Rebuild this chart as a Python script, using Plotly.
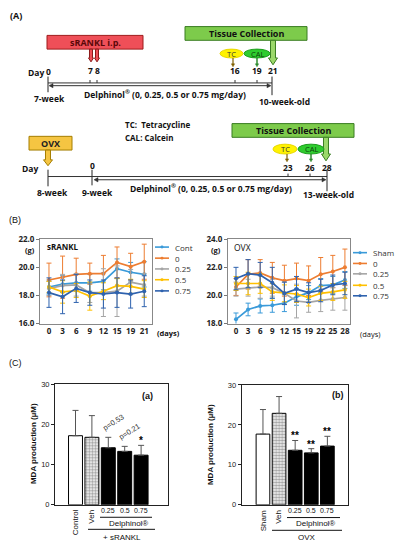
import plotly.graph_objects as go

# ---------------- data ----------------
srankl_days = ["0", "3", "6", "9", "12", "15", "19", "21"]
srankl_names = ["Cont", "0", "0.25", "0.5", "0.75"]
srankl_cont = [18.6, 18.8, 18.9, 18.9, 19.0, 19.9, 19.65, 19.5]
srankl_0 = [19.1, 19.3, 19.5, 19.55, 19.55, 20.35, 20.05, 20.4]
srankl_025 = [18.5, 18.7, 18.75, 18.2, 18.2, 18.3, 18.95, 18.75]
srankl_05 = [18.6, 18.25, 18.35, 17.95, 18.3, 18.7, 18.65, 18.45]
srankl_075 = [18.2, 17.9, 18.5, 18.2, 18.1, 18.2, 18.1, 18.3]
srankl_cont_sd = [0.5, 0.6, 0.6, 0.6, 0.6, 0.7, 0.7, 0.9]
srankl_0_sd = [1.2, 1.5, 1.15, 0.75, 1.3, 1.1, 0.95, 1.25]
srankl_025_sd = [0.5, 0.8, 0.8, 0.7, 1.7, 1.8, 0.9, 0.8]
srankl_05_sd = [0.4, 0.8, 0.5, 1.0, 0.6, 0.5, 0.5, 0.6]
srankl_075_sd = [1.05, 1.2, 1.0, 0.9, 1.0, 1.05, 1.0, 1.1]

ovx_days = ["0", "3", "6", "9", "12", "15", "19", "22", "25", "28"]
ovx_names = ["Sham", "0", "0.25", "0.5", "0.75"]
ovx_sham = [18.3, 19.0, 19.25, 19.3, 19.45, 19.9, 20.2, 20.7, 20.75, 21.1]
ovx_0 = [20.6, 21.5, 21.6, 21.25, 21.05, 21.2, 21.05, 21.5, 21.7, 22.0]
ovx_025 = [20.45, 20.55, 20.6, 20.55, 20.15, 19.6, 19.5, 19.65, 19.75, 19.85]
ovx_05 = [20.85, 20.85, 20.85, 20.25, 20.15, 20.1, 19.85, 20.15, 20.25, 20.4]
ovx_075 = [21.2, 21.55, 21.45, 20.9, 20.15, 20.45, 20.2, 20.35, 20.75, 20.85]
ovx_sham_sd = [0.45, 0.45, 0.5, 0.5, 0.6, 0.6, 0.5, 0.5, 0.6, 0.6]
ovx_0_sd = [0.6, 1.05, 0.95, 1.1, 1.1, 1.1, 1.05, 1.2, 1.15, 1.3]
ovx_025_sd = [0.5, 0.6, 0.8, 0.6, 0.8, 1.2, 0.7, 0.8, 0.8, 0.9]
ovx_05_sd = [0.5, 0.8, 0.7, 0.6, 0.6, 0.6, 0.6, 0.5, 0.6, 0.6]
ovx_075_sd = [0.8, 1.0, 0.9, 1.1, 0.8, 0.9, 0.7, 0.8, 0.7, 0.8]

mda_a_groups = ["Control", "Veh", "0.25", "0.5", "0.75"]
mda_a = [17.2, 16.8, 14.2, 13.3, 12.35]
mda_a_sd = [6.3, 5.4, 2.6, 1.25, 2.45]
mda_a_marks = ["", "", "p=0.53", "p=0.21", "*"]

mda_b_groups = ["Sham", "Veh", "0.25", "0.5", "0.75"]
mda_b = [17.7, 22.9, 13.65, 13.0, 14.7]
mda_b_sd = [6.15, 4.2, 2.45, 1.05, 2.45]
mda_b_marks = ["", "", "**", "**", "**"]

line_colors = ["#3A9AD9", "#ED7D31", "#A5A5A5", "#FFC000", "#2E62AE"]

W, H = 398, 550
def X(p): return p / W
def Y(p): return 1 - p / H

fig = go.Figure()
shapes = []
ann = []

def text(x, y, t, size=8, color="#111", bold=True, xa="center", ya="middle", angle=0, family="Open Sans"):
    ann.append(dict(x=X(x), y=Y(y), xref="paper", yref="paper", text=("<b>%s</b>" % t) if bold else t,
                    showarrow=False, xanchor=xa, yanchor=ya, textangle=angle,
                    font=dict(size=size, color=color, family=family)))

def line(x0, y0, x1, y1, color="#222", w=1):
    shapes.append(dict(type="line", xref="paper", yref="paper", x0=X(x0), y0=Y(y0), x1=X(x1), y1=Y(y1),
                       line=dict(color=color, width=w)))

def rect(x0, y0, x1, y1, fill, border, w=1):
    shapes.append(dict(type="rect", xref="paper", yref="paper", x0=X(x0), y0=Y(y0), x1=X(x1), y1=Y(y1),
                       fillcolor=fill, line=dict(color=border, width=w)))

def ellipse(x0, y0, x1, y1, fill, border):
    shapes.append(dict(type="circle", xref="paper", yref="paper", x0=X(x0), y0=Y(y0), x1=X(x1), y1=Y(y1),
                       fillcolor=fill, line=dict(color=border, width=1)))

def block_arrow(cx, y0, y1, sw, hw, hh, fill, border):
    pts = [(cx - sw / 2, y0), (cx + sw / 2, y0), (cx + sw / 2, y1 - hh), (cx + hw / 2, y1 - hh),
           (cx, y1), (cx - hw / 2, y1 - hh), (cx - sw / 2, y1 - hh)]
    path = "M " + " L ".join("%.5f,%.5f" % (X(a), Y(b)) for a, b in pts) + " Z"
    shapes.append(dict(type="path", xref="paper", yref="paper", path=path, fillcolor=fill,
                       line=dict(color=border, width=1)))

def tri(tipx, tipy, direction, size, color):
    if direction == "left":
        pts = [(tipx, tipy), (tipx + size, tipy - size * 0.55), (tipx + size, tipy + size * 0.55)]
    elif direction == "right":
        pts = [(tipx, tipy), (tipx - size, tipy - size * 0.55), (tipx - size, tipy + size * 0.55)]
    else:
        pts = [(tipx, tipy), (tipx - size * 0.55, tipy - size), (tipx + size * 0.55, tipy - size)]
    path = "M " + " L ".join("%.5f,%.5f" % (X(a), Y(b)) for a, b in pts) + " Z"
    shapes.append(dict(type="path", xref="paper", yref="paper", path=path, fillcolor=color,
                       line=dict(color=color, width=0.5)))

# ---------------- panel A schematic ----------------
text(8, 10, "(A)", size=9, xa="left", bold=True)
rect(47, 30, 143, 44, "#EF4F58", "#9E1B1B")
text(95, 37, "sRANKL i.p.", size=9, color="#5A0808")
block_arrow(91, 44, 57, 3, 5, 4, "#EF4F58", "#8B1A1A")
block_arrow(97, 44, 57, 3, 5, 4, "#EF4F58", "#8B1A1A")
rect(185, 21, 307, 35, "#7DCB4B", "#3A7D22")
text(246, 28, "Tissue Collection", size=9)
block_arrow(273, 35, 60, 5, 9, 7, "#9BD86A", "#3A7D22")
ellipse(220, 44, 243, 53, "#FFF200", "#E8D800")
text(231.5, 48.5, "TC", size=7.5, color="#333", bold=False)
ellipse(244, 44, 270, 53, "#2FCC2F", "#1E9E1E")
text(257, 48.5, "CAL", size=7.5, color="#0B3D0B", bold=False)
line(233, 53, 233, 60, "#806000", 1.2)
tri(233, 62, "down", 3, "#806000")
line(257, 53, 257, 60, "#2E8B2E", 1.5)
tri(257, 62, "down", 3, "#2E8B2E")
text(36, 68, "Day", size=8.5)
text(48, 67, "0", size=8.5)
text(90, 66, "7", size=8.5)
text(97.5, 66, "8", size=8.5)
text(235, 66, "16", size=8.5)
text(257, 66, "19", size=8.5)
text(273, 66, "21", size=8.5)
line(48, 72, 48, 88, "#222", 1)
line(48, 78.5, 272, 78.5, "#333", 1)
line(51, 81.3, 268, 81.3, "#333", 1)
tri(49, 81.3, "left", 4, "#333")
tri(271, 81.3, "right", 4, "#333")
for xt in (90, 97, 235, 257):
    line(xt, 75.5, xt, 78.5, "#333", 1)
line(272, 72, 272, 91, "#222", 1)
text(49, 94, "7-week", size=8.5)
text(82, 90, "Delphinol<sup>®</sup> (0, 0.25, 0.5 or 0.75 mg/day)", size=8.5, xa="left")
text(284, 97, "10-week-old", size=8.5)
text(123, 121, "TC:  Tetracycline", size=8, xa="left")
text(123, 134, "CAL: Calcein", size=8, xa="left")
rect(29, 133, 72, 147, "#F5C542", "#A57E00")
text(50.5, 140, "OVX", size=9, color="#222")
block_arrow(48, 147, 163, 5, 9, 6, "#F5C542", "#A57E00")
rect(232, 120, 354, 134, "#7DCB4B", "#3A7D22")
text(293, 127, "Tissue Collection", size=9)
block_arrow(326, 134, 158, 5, 9, 7, "#9BD86A", "#3A7D22")
ellipse(273, 141, 297, 151, "#FFF200", "#E8D800")
text(285, 146, "TC", size=7.5, color="#333", bold=False)
ellipse(298, 141, 324, 151, "#2FCC2F", "#1E9E1E")
text(311, 146, "CAL", size=7.5, color="#0B3D0B", bold=False)
line(287, 151, 287, 157, "#806000", 1.2)
tri(287, 159, "down", 3, "#806000")
line(311, 151, 311, 157, "#2E8B2E", 1.5)
tri(311, 159, "down", 3, "#2E8B2E")
text(30, 166, "Day", size=8.5)
text(92, 163, "0", size=8.5)
text(288, 165, "23", size=8.5)
text(310, 165, "26", size=8.5)
text(327, 165, "28", size=8.5)
line(48, 167, 48, 184, "#222", 1)
line(92, 167, 92, 183, "#222", 1)
line(48, 174, 327, 174, "#333", 1)
line(96, 177.3, 323, 177.3, "#333", 1)
tri(94, 177.3, "left", 4, "#333")
tri(326, 177.3, "right", 4, "#333")
for xt in (288, 310):
    line(xt, 171, xt, 174, "#333", 1)
line(327, 167, 327, 189, "#222", 1)
text(52, 190, "8-week", size=8.5)
text(97, 190, "9-week", size=8.5)
text(128, 186, "Delphinol<sup>®</sup> (0, 0.25, 0.5 or 0.75 mg/day)", size=8.5, xa="left")
text(328, 192, "13-week-old", size=8.5)

# ---------------- panel B line charts ----------------
text(7, 218, "(B)", size=9, xa="left", bold=False, family="Liberation Sans")

def add_lines(days, series, sds, xa, ya):
    for vals, sd, col in zip(series, sds, line_colors):
        fig.add_trace(go.Scatter(
            x=days, y=vals, mode="lines+markers", xaxis=xa, yaxis=ya, showlegend=False,
            line=dict(color=col, width=1.7), marker=dict(color=col, size=4),
            error_y=dict(type="data", array=sd, visible=True, color=col, thickness=1, width=2.5)))

add_lines(srankl_days, [srankl_cont, srankl_0, srankl_025, srankl_05, srankl_075],
          [srankl_cont_sd, srankl_0_sd, srankl_025_sd, srankl_05_sd, srankl_075_sd], "x", "y")
add_lines(ovx_days, [ovx_sham, ovx_0, ovx_025, ovx_05, ovx_075],
          [ovx_sham_sd, ovx_0_sd, ovx_025_sd, ovx_05_sd, ovx_075_sd], "x2", "y2")

def legend(x0, ys, names):
    for yy, nm, col in zip(ys, names, line_colors):
        line(x0, yy, x0 + 14, yy, col, 1.6)
        shapes.append(dict(type="circle", xref="paper", yref="paper", x0=X(x0 + 5.5), x1=X(x0 + 8.5),
                           y0=Y(yy - 1.5), y1=Y(yy + 1.5), fillcolor=col, line=dict(color=col, width=0)))
        text(x0 + 18, yy, nm, size=8, bold=False, xa="left", color="#333")

legend(155, [246, 257.3, 268.3, 279.3, 290.7], srankl_names)
legend(353, [251.7, 262.7, 273.3, 285, 295.7], ovx_names)

text(45, 245, "sRANKL", size=8, xa="left")
text(232, 246, "OVX", size=8.5, xa="left", bold=False)
text(30, 248.5, "(g)", size=7.5)
text(216, 248.5, "(g)", size=7.5)
text(155, 334, "(days)", size=7.5, xa="left")
text(358, 335, "(days)", size=7.5, xa="left", bold=False)

# ---------------- panel C bar charts ----------------
text(7, 364, "(C)", size=9, xa="left", bold=False, family="Liberation Sans")

def add_bars(groups, vals, sd, xa, ya):
    fills = ["white", "white", "black", "black", "black"]
    pats = ["", ".", "", "", ""]
    fig.add_trace(go.Bar(
        x=groups, y=vals, xaxis=xa, yaxis=ya, showlegend=False,
        marker=dict(color=fills, line=dict(color="black", width=1),
                    pattern=dict(shape=pats, fgcolor="black", bgcolor="white", size=3, solidity=0.6)),
        error_y=dict(type="data", array=sd, arrayminus=[0] * len(sd), symmetric=False,
                     color="#555", thickness=1, width=3)))

add_bars(mda_a_groups, mda_a, mda_a_sd, "x3", "y3")
add_bars(mda_b_groups, mda_b, mda_b_sd, "x4", "y4")

def marks(vals, sds, mk, xa, ya):
    for i, (v, s, m) in enumerate(zip(vals, sds, mk)):
        if m.startswith("p"):
            ann.append(dict(x=i, y=v + s, xref=xa, yref=ya, text=m, showarrow=False, textangle=-32,
                            xanchor="center", yanchor="bottom", yshift=2, xshift=5,
                            font=dict(size=7.5, color="#333", family="Liberation Sans")))
        elif m:
            ann.append(dict(x=i, y=v + s, xref=xa, yref=ya, text="<b>%s</b>" % m, showarrow=False,
                            xanchor="center", yanchor="bottom", yshift=-3,
                            font=dict(size=10, color="#000", family="Liberation Sans")))

marks(mda_a, mda_a_sd, mda_a_marks, "x3", "y3")
marks(mda_b, mda_b_sd, mda_b_marks, "x4", "y4")

def bar_labels(groups, xa, top_line, dl_y, bottom_line, bottom_text, lines_x):
    for i, g in enumerate(groups):
        if i < 2:
            ann.append(dict(x=i, y=Y(512), xref=xa, yref="paper", text=g, showarrow=False, textangle=-90,
                            xanchor="center", yanchor="top", font=dict(size=8, color="#111", family="Liberation Sans")))
        else:
            ann.append(dict(x=i, y=Y(515), xref=xa, yref="paper", text=g, showarrow=False,
                            xanchor="center", yanchor="middle", font=dict(size=7, color="#111", family="Liberation Sans")))
    line(lines_x[0], top_line, lines_x[1], top_line, "#111", 1)
    text((lines_x[0] + lines_x[1]) / 2 + 2, dl_y, "Delphinol®", size=8, bold=False, family="Liberation Sans")
    line(lines_x[2], bottom_line, lines_x[3], bottom_line, "#111", 1)
    text((lines_x[2] + lines_x[3]) / 2, 542, bottom_text, size=8, bold=False, family="Liberation Sans")

bar_labels(mda_a_groups, "x3", 521.7, 528, 534, "+ sRANKL", (100, 152, 88, 155))
bar_labels(mda_b_groups, "x4", 522, 528.5, 535, "OVX", (287, 340, 272, 342))

text(33, 447, "MDA production (µM)", size=8, angle=-90, family="Liberation Sans")
text(210, 447, "MDA production (µM)", size=8, angle=-90, family="Liberation Sans")
text(147, 398, "(a)", size=9, family="Liberation Sans")
text(338, 397, "(b)", size=9, family="Liberation Sans")

# ---------------- axes ----------------
tickf = dict(size=8, color="#222", family="Open Sans")
def yline_axis(dom, anchor, rng, vals):
    return dict(domain=dom, anchor=anchor, range=rng, tickvals=vals,
                ticktext=["<b>%.1f</b>" % v for v in vals], ticks="outside", ticklen=3,
                tickcolor="#777", showline=True, linecolor="#888", mirror=True, showgrid=False,
                zeroline=False, tickfont=tickf)

def xline_axis(dom, anchor, rng, cats):
    return dict(domain=dom, anchor=anchor, range=rng, type="category", showline=True,
                linecolor="#888", mirror=True, ticks="", showgrid=False, tickfont=tickf,
                tickvals=cats, ticktext=["<b>%s</b>" % c for c in cats])

def ybar_axis(dom, anchor):
    return dict(domain=dom, anchor=anchor, range=[0, 30], tickvals=[0, 10, 20, 30], ticks="outside",
                ticklen=3, tickcolor="#222", showline=True, linecolor="#222", mirror=True,
                showgrid=False, zeroline=False,
                tickfont=dict(size=7.5, color="#222", family="Liberation Sans"))

def xbar_axis(dom, anchor, rng):
    return dict(domain=dom, anchor=anchor, range=rng, type="category", showline=True,
                linecolor="#222", mirror=True, ticks="", showticklabels=False, showgrid=False)

fig.update_layout(
    width=W, height=H, margin=dict(l=0, r=0, t=0, b=0),
    paper_bgcolor="white", plot_bgcolor="white", bargap=0.15,
    xaxis=xline_axis([X(40), X(152)], "y", [-0.66, 7.57], srankl_days),
    yaxis=yline_axis([Y(324), Y(238)], "x", [16, 22], [16, 18, 20, 22]),
    xaxis2=xline_axis([X(228), X(350)], "y2", [-0.66, 9.42], ovx_days),
    yaxis2=yline_axis([Y(324), Y(238)], "x2", [18, 24], [18, 20, 22, 24]),
    xaxis3=xbar_axis([X(55), X(168)], "y3", [-1.25, 5.64]),
    yaxis3=ybar_axis([Y(509), Y(386)], "x3"),
    xaxis4=xbar_axis([X(241.7), X(348)], "y4", [-1.32, 5.28]),
    yaxis4=ybar_axis([Y(509), Y(386.7)], "x4"),
    shapes=shapes, annotations=ann,
)

fig.write_html("out.html", config={"displayModeBar": False},
               post_script="document.body.style.margin='0';document.body.style.overflow='hidden';")
